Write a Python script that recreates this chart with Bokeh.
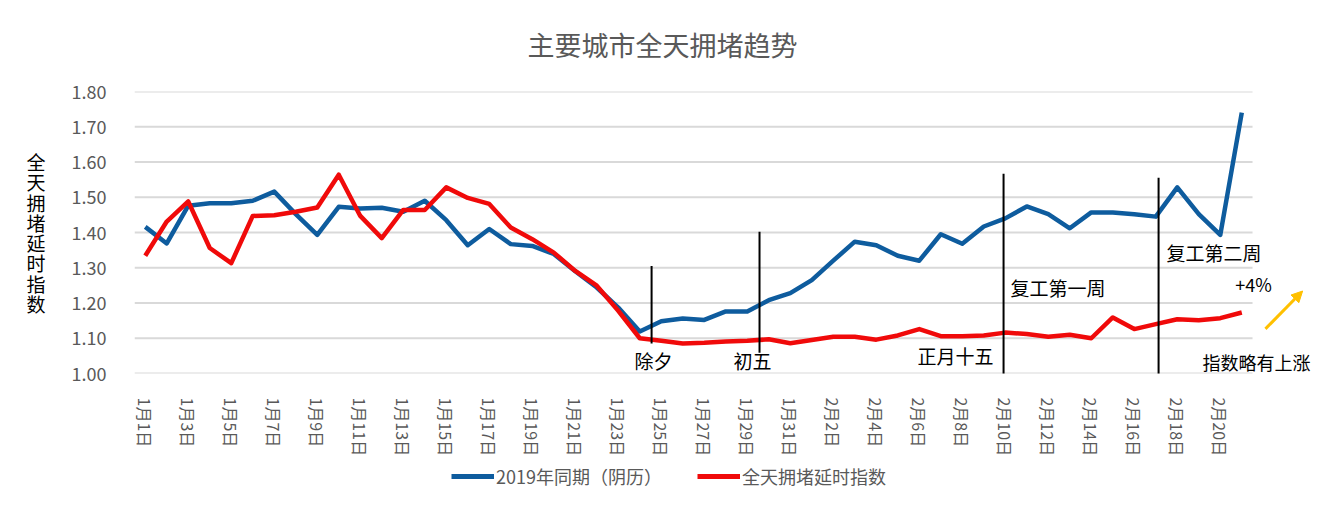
from bokeh.plotting import figure
from bokeh.layouts import column
from bokeh.models import (Range1d, FixedTicker, Legend, LegendItem, Label, Arrow, NormalHead)
from bokeh.embed import file_html
from bokeh.resources import INLINE

dates = ["1月1日", "1月2日", "1月3日", "1月4日", "1月5日", "1月6日", "1月7日", "1月8日", "1月9日", "1月10日",
         "1月11日", "1月12日", "1月13日", "1月14日", "1月15日", "1月16日", "1月17日", "1月18日", "1月19日", "1月20日",
         "1月21日", "1月22日", "1月23日", "1月24日", "1月25日", "1月26日", "1月27日", "1月28日", "1月29日", "1月30日",
         "1月31日", "2月1日", "2月2日", "2月3日", "2月4日", "2月5日", "2月6日", "2月7日", "2月8日", "2月9日",
         "2月10日", "2月11日", "2月12日", "2月13日", "2月14日", "2月15日", "2月16日", "2月17日", "2月18日", "2月19日",
         "2月20日", "2月21日"]

series_2019 = [1.416, 1.369, 1.476, 1.483, 1.483, 1.490, 1.516, 1.452, 1.393, 1.473,
               1.468, 1.470, 1.459, 1.490, 1.435, 1.364, 1.410, 1.367, 1.362, 1.339,
               1.290, 1.244, 1.187, 1.119, 1.148, 1.156, 1.152, 1.176, 1.176, 1.208,
               1.228, 1.265, 1.320, 1.374, 1.364, 1.334, 1.320, 1.395, 1.368, 1.417,
               1.440, 1.474, 1.452, 1.412, 1.457, 1.457, 1.452, 1.445, 1.528, 1.452,
               1.393, 1.740]

series_index = [1.334, 1.431, 1.488, 1.356, 1.313, 1.447, 1.449, 1.459, 1.471, 1.564,
                1.447, 1.384, 1.464, 1.464, 1.528, 1.498, 1.481, 1.414, 1.381, 1.343,
                1.291, 1.249, 1.178, 1.100, 1.093, 1.085, 1.087, 1.091, 1.093, 1.097,
                1.086, 1.095, 1.104, 1.104, 1.096, 1.108, 1.126, 1.106, 1.106, 1.108,
                1.116, 1.112, 1.104, 1.110, 1.100, 1.159, 1.126, 1.140, 1.154, 1.151,
                1.157, 1.173]

y_ticks = [1.00, 1.10, 1.20, 1.30, 1.40, 1.50, 1.60, 1.70, 1.80]

series_names = ["2019年同期（阴历）", "全天拥堵延时指数"]
chart_title = "主要城市全天拥堵趋势"
y_title = "全天拥堵延时指数"

# event markers (x in day-index units, y range of the marker line)
marker_x = [23.55, 28.57, 39.92, 47.13]
marker_y0 = [1.085, 1.059, 0.99, 0.99]
marker_y1 = [1.305, 1.402, 1.567, 1.555]

GRAY = "#595959"
FONT = "Noto Sans CJK SC"
BLUE = "#0E5C9E"
RED = "#F00A0A"
W = 1334
BL, BR = 134, 8          # left / right borders shared by all strips
FX0, FX1 = BL, W - BR    # frame extent in page pixels

x = list(range(len(dates)))

# ---------------- title strip ----------------
TH = 70
pt = figure(width=W, height=TH, output_backend="svg", toolbar_location=None,
            x_range=Range1d(FX0, FX1), y_range=Range1d(0, TH), x_axis_type=None, y_axis_type=None,
            min_border_left=BL, min_border_right=BR, min_border_top=0, min_border_bottom=0)
pt.outline_line_color = None
pt.grid.visible = False
pt.add_layout(Label(x=662, y=TH - 44, text=chart_title, text_font=FONT, text_font_size="27px",
                    text_color=GRAY, text_align="center", text_baseline="middle"))

# ---------------- main chart ----------------
p = figure(width=W, height=391, output_backend="svg", toolbar_location=None,
           x_range=Range1d(-0.5, 54.94), y_range=Range1d(1.0, 1.8),
           min_border_left=BL, min_border_right=BR, min_border_top=21, min_border_bottom=88)
p.outline_line_color = None
p.xgrid.grid_line_color = None
p.ygrid.grid_line_color = None

# horizontal grid lines spanning only the category area
p.segment(x0=-0.5, x1=len(dates) - 0.5, y0=y_ticks, y1=y_ticks,
          line_color="#D9D9D9", line_width=2, level="underlay")

# y axis
p.yaxis.ticker = FixedTicker(ticks=y_ticks)
p.yaxis.major_label_overrides = {t: f"{t:.2f}" for t in y_ticks}
p.yaxis.axis_line_color = None
p.yaxis.major_tick_line_color = None
p.yaxis.minor_tick_line_color = None
p.yaxis.major_label_standoff = 22
p.yaxis.major_label_text_font = FONT
p.yaxis.major_label_text_font_size = "18px"
p.yaxis.major_label_text_color = GRAY
yax = p.yaxis[0]
if "axis_label_orientation" in yax.properties():
    yax.axis_label = "\n".join(y_title)
    yax.axis_label_orientation = "horizontal"
else:
    yax.axis_label = y_title
yax.axis_label_standoff = 23
yax.axis_label_text_font = FONT
yax.axis_label_text_font_size = "19px"
yax.axis_label_text_font_style = "normal"
yax.axis_label_text_color = "black"
yax.axis_label_text_line_height = 0.75

# x axis
p.xaxis.ticker = FixedTicker(ticks=x[::2])
p.xaxis.major_label_overrides = {i: dates[i] for i in x[::2]}
p.xaxis.major_label_orientation = "vertical"
p.xaxis.axis_line_color = None
p.xaxis.major_tick_line_color = None
p.xaxis.minor_tick_line_color = None
p.xaxis.major_label_standoff = 18
p.xaxis.major_label_text_font = FONT
p.xaxis.major_label_text_font_size = "16px"
p.xaxis.major_label_text_color = GRAY

p.line(x, series_2019, line_color=BLUE, line_width=4.5, line_join="round")
p.line(x, series_index, line_color=RED, line_width=4.5, line_join="round")

# vertical event lines
p.segment(x0=marker_x, y0=marker_y0, x1=marker_x, y1=marker_y1, line_color="black", line_width=2)

def lab(xv, yv, text, size="19px", align="left", color="black"):
    p.add_layout(Label(x=xv, y=yv, text=text, text_font=FONT, text_font_size=size,
                       text_color=color, text_align=align, text_baseline="middle"))

lab(23.64, 1.036, "除夕", align="center")
lab(28.24, 1.036, "初五", align="center")
lab(37.69, 1.05, "正月十五", align="center")
lab(40.24, 1.245, "复工第一周")
lab(47.5, 1.344, "复工第二周")
lab(50.7, 1.254, "+4%", size="18px")
lab(49.17, 1.033, "指数略有上涨", size="18px")

p.add_layout(Arrow(x_start=52.1, y_start=1.1265, x_end=53.83, y_end=1.234,
                   line_color="#FFC000", line_width=3,
                   end=NormalHead(size=11, fill_color="#FFC000", line_color="#FFC000")))

# ---------------- legend strip ----------------
LH = 32
pl = figure(width=W, height=LH, output_backend="svg", toolbar_location=None,
            x_range=Range1d(-1, 0), y_range=Range1d(-1, 0), x_axis_type=None, y_axis_type=None,
            min_border_left=BL, min_border_right=BR, min_border_top=0, min_border_bottom=0)
pl.outline_line_color = None
pl.grid.visible = False
# the series themselves (outside this strip's view) supply the legend glyphs
g1 = pl.line(x, series_2019, line_color=BLUE, line_width=5)
g2 = pl.line(x, series_index, line_color=RED, line_width=5)
legend = Legend(items=[LegendItem(label=series_names[0], renderers=[g1]),
                       LegendItem(label=series_names[1], renderers=[g2])],
                orientation="horizontal", location=(453 - BL - 2, 4),
                label_text_font=FONT, label_text_font_size="18px", label_text_color=GRAY,
                glyph_width=43, label_standoff=2, spacing=35, border_line_color=None,
                background_fill_alpha=0, margin=0, padding=2)
pl.add_layout(legend)

layout = column(pt, p, pl, spacing=0)
open("out.html", "w").write(file_html(layout, INLINE))
